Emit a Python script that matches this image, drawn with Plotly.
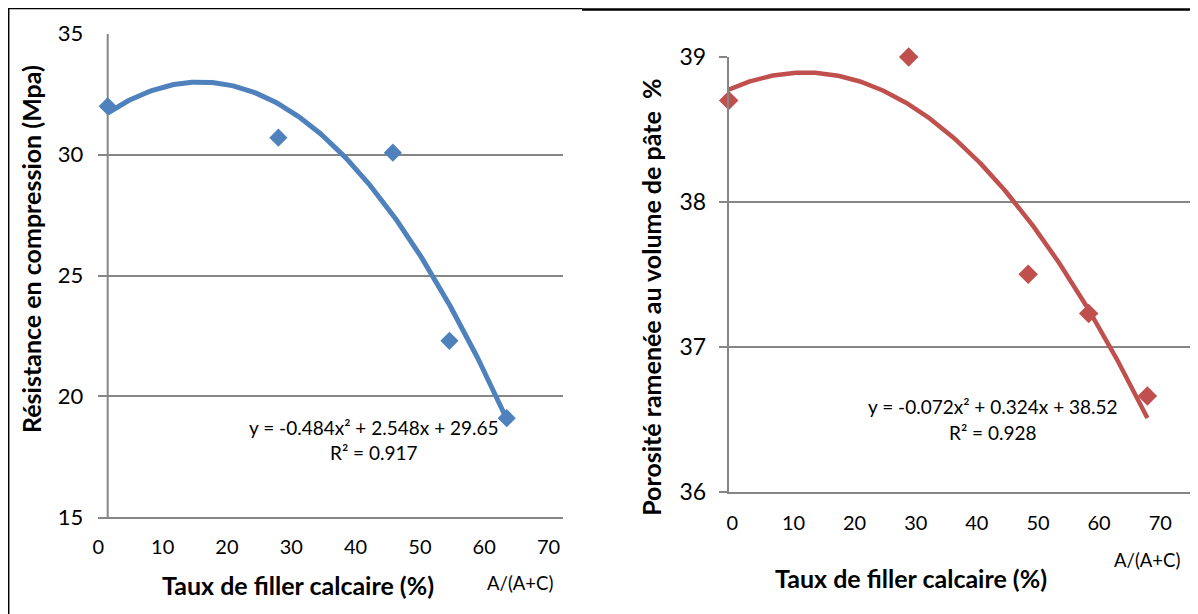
import numpy as np
import plotly.graph_objects as go

# valeurs
filler_res = [1.46, 28.0, 45.8, 54.6, 63.5]
resistance = [32.0, 30.7, 30.08, 22.3, 19.1]

filler_por = [-0.6, 28.85, 48.4, 58.3, 67.9]
porosite = [38.70, 39.0, 37.50, 37.23, 36.66]

xticks = [0, 10, 20, 30, 40, 50, 60, 70]
res_ticks = [15, 20, 25, 30, 35]
por_ticks = [36, 37, 38, 39]

eq_res = ['y = -0.484x² + 2.548x + 29.65', 'R² = 0.917']
eq_por = ['y = -0.072x² + 0.324x + 38.52', 'R² = 0.928']

BLUE = '#4F81BD'
RED = '#C0504D'
GRID = '#868686'
FONT = 'Lato'
W, H = 1198, 614
OFF = 8   # marge du <body> de la page html


def px(x):   # pixels de la page -> paper
    return (x - OFF) / W


def py(y):
    return 1 - (y - OFF) / H


def trend(xv, yv):
    # courbe de tendance polynomiale d'ordre 2, comme dans Excel
    c = np.polyfit(xv, yv, 2)
    xs = np.linspace(min(xv), max(xv), 200)
    return xs, np.polyval(c, xs)


fig = go.Figure()

xs, ys = trend(filler_res, resistance)
fig.add_trace(go.Scatter(x=xs, y=ys, mode='lines', line=dict(color=BLUE, width=5),
                         xaxis='x', yaxis='y', hoverinfo='skip'))
fig.add_trace(go.Scatter(x=filler_res, y=resistance, mode='markers', cliponaxis=False,
                         marker=dict(symbol='diamond', size=14, color=BLUE), xaxis='x', yaxis='y'))

xs, ys = trend(filler_por, porosite)
fig.add_trace(go.Scatter(x=xs, y=ys, mode='lines', line=dict(color=RED, width=4.5),
                         xaxis='x2', yaxis='y2', hoverinfo='skip'))
fig.add_trace(go.Scatter(x=filler_por, y=porosite, mode='markers', cliponaxis=False,
                         marker=dict(symbol='diamond', size=15, color=RED), xaxis='x2', yaxis='y2'))

tick_font = dict(family=FONT, size=20, color='black')

fig.update_layout(
    width=W, height=H, margin=dict(l=0, r=0, t=0, b=0),
    paper_bgcolor='white', plot_bgcolor='white', showlegend=False,
    font=dict(family=FONT, color='black'),
    xaxis=dict(domain=[px(98.3), px(563.3)], range=[0, 72.3], tickvals=xticks, automargin=False,
               showgrid=False, zeroline=False, showline=True, linecolor=GRID, linewidth=2,
               tickfont=tick_font, ticklabelstandoff=11, anchor='y'),
    yaxis=dict(domain=[py(517.3), py(33.7)], range=[15, 35], tickvals=res_ticks, automargin=False,
               showgrid=True, gridcolor=GRID, gridwidth=2, zeroline=False, showline=False,
               tickfont=dict(family=FONT, size=22, color='black'), ticklabelstandoff=14, anchor='x'),
    xaxis2=dict(domain=[px(728.7), px(1206)], range=[-0.6, 77.49], tickvals=xticks, automargin=False,
                showgrid=False, zeroline=False, showline=True, linecolor=GRID, linewidth=2,
                tickfont=tick_font, ticklabelstandoff=12, anchor='y2'),
    yaxis2=dict(domain=[py(491.7), py(57)], range=[36, 39], tickvals=por_ticks, automargin=False,
                showgrid=True, gridcolor=GRID, gridwidth=2, zeroline=False,
                showline=True, linecolor=GRID, linewidth=2,
                ticks='outside', ticklen=8, tickwidth=2, tickcolor=GRID,
                tickfont=dict(family=FONT, size=23, color='black'), ticklabelstandoff=8, anchor='x2'),
)

# axe vertical du graphe de gauche (decale par rapport au 0)
fig.add_shape(type='line', xref='x', yref='y', x0=filler_res[0], x1=filler_res[0], y0=15, y1=35,
              line=dict(color=GRID, width=2), layer='below')

# cadres
fig.add_shape(type='line', xref='paper', yref='paper', x0=0, x1=px(582), y0=py(8.5), y1=py(8.5),
              line=dict(color='black', width=1.5))
fig.add_shape(type='line', xref='paper', yref='paper', x0=px(8.7), x1=px(8.7), y0=py(8), y1=0,
              line=dict(color='black', width=1.5))
fig.add_shape(type='line', xref='paper', yref='paper', x0=px(582), x1=1, y0=py(9.5), y1=py(9.5),
              line=dict(color='black', width=2.5))


def note(x, y, text, size=19, bold=False, angle=0):
    if bold:
        text = '<b>' + text + '</b>'
    fig.add_annotation(x=px(x), y=py(y), xref='paper', yref='paper', text=text, showarrow=False,
                       xanchor='center', yanchor='middle', textangle=angle,
                       font=dict(family=FONT, size=size, color='black'))


note(31, 249, 'Résistance en compression (Mpa)', size=25, bold=True, angle=-90)
note(297.5, 585, 'Taux de filler calcaire (%)', size=25, bold=True)
note(520.3, 582.7, 'A/(A+C)', size=18.5)
note(374, 427.7, eq_res[0])
note(374, 452.7, eq_res[1])

note(650.8, 297, 'Porosité ramenée au volume de pâte  %', size=25, bold=True, angle=-90)
note(911, 578.3, 'Taux de filler calcaire (%)', size=25, bold=True)
note(1146.7, 560, 'A/(A+C)', size=18.5)
note(993, 406.7, eq_por[0])
note(993, 432.7, eq_por[1])

fig.write_html('out.html')
